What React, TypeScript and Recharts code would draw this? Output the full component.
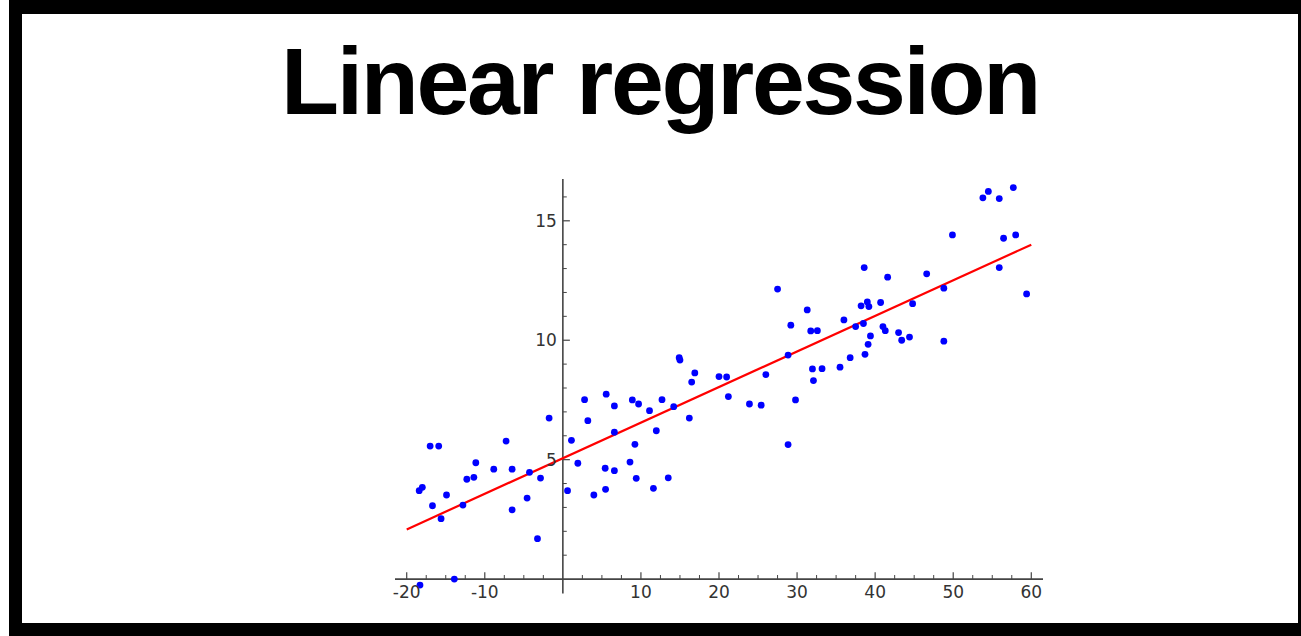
import {
  ComposedChart,
  Scatter,
  XAxis,
  YAxis,
  ReferenceLine,
  ReferenceDot
} from "recharts";

const xs = [
  -18.3, -13.9, -18.4, -18.0, -17.0, -15.9, -16.7, -15.6, -14.9, -12.8,
  -12.3, -11.4, -11.15, -8.85, -7.27, -6.5, -6.5, -4.58, -4.27, -2.86,
  -3.25, -1.76, 0.6, 1.1, 1.92, 2.78, 3.2, 3.97, 5.47, 5.42,
  5.55, 6.6, 6.6, 6.6, 8.9, 9.7, 9.23, 8.6, 9.4, 11.1,
  11.97, 11.6, 12.7, 13.5, 14.2, 14.9, 15.0, 16.2, 16.5, 16.9,
  20.0, 20.98, 21.2, 23.9, 25.4, 26.0, 27.5, 28.85, 28.85, 29.2,
  29.8, 31.3, 31.75, 32.6, 31.97, 33.2, 32.1, 35.5, 36.0, 36.8,
  37.5, 38.2, 38.6, 38.5, 39.0, 39.2, 38.7, 39.1, 39.4, 40.7,
  41.0, 41.3, 41.6, 43.0, 43.4, 44.4, 44.8, 46.6, 48.8, 48.8,
  49.9, 53.8, 54.5, 55.9, 57.7, 55.9, 56.45, 58.0, 59.4
];
const ys = [
  -0.25, 0.0, 3.7, 3.84, 5.57, 5.57, 3.07, 2.53, 3.52, 3.1,
  4.18, 4.26, 4.87, 4.6, 5.78, 4.6, 2.9, 3.39, 4.47, 4.23,
  1.69, 6.74, 3.7, 5.81, 4.85, 7.51, 6.63, 3.52, 3.76, 4.64,
  7.74, 7.25, 4.54, 6.15, 7.5, 7.33, 5.64, 4.9, 4.22, 7.05,
  6.21, 3.8, 7.51, 4.24, 7.22, 9.27, 9.17, 6.74, 8.25, 8.63,
  8.48, 8.46, 7.64, 7.33, 7.28, 8.56, 12.14, 9.38, 5.63, 10.63,
  7.5, 11.27, 10.39, 10.4, 8.8, 8.81, 8.31, 8.87, 10.85, 9.27,
  10.57, 11.44, 13.04, 10.7, 11.6, 11.41, 9.41, 9.83, 10.18, 11.58,
  10.57, 10.4, 12.64, 10.32, 10.0, 10.13, 11.53, 12.78, 12.18, 9.96,
  14.41, 15.96, 16.23, 15.93, 16.39, 13.04, 14.27, 14.41, 11.94
];

// fitted line end points
const fitX = [-20, 60];
const fitY = [2.08, 14.0];

const xMajorTicks = [-20, -10, 10, 20, 30, 40, 50, 60];
const xMinorTicks = [
  -17.5, -15, -12.5, -7.5, -5, -2.5, 2.5, 5, 7.5, 12.5, 15, 17.5,
  22.5, 25, 27.5, 32.5, 35, 37.5, 42.5, 45, 47.5, 52.5, 55, 57.5
];
const yMajorTicks = [5, 10, 15];
const yMinorTicks = [1, 2, 3, 4, 6, 7, 8, 9, 11, 12, 13, 14, 16];

const xDomain: [number, number] = [-21.5, 61.5];
const yDomain: [number, number] = [-0.75, 16.75];

const points = xs.map((x, i) => ({ x, y: ys[i] }));

const axisColor = "#444";
const labelStyle = { fill: "#333", fontSize: 17, fontFamily: "DejaVu Sans" };

export default function App() {
  return (
    <div style={{ position: "absolute", left: 0, top: 0, width: 1301, height: 636, background: "#fff" }}>
      <div style={{ position: "absolute", left: 9, top: 0, width: 1292, height: 636, background: "#000" }} />
      <div style={{ position: "absolute", left: 22, top: 14, width: 1276, height: 609, background: "#fff" }} />
      <div
        style={{
          position: "absolute",
          left: 22,
          top: 34,
          width: 1276,
          textAlign: "center",
          fontFamily: "'Liberation Sans', Arial, sans-serif",
          fontWeight: 700,
          fontSize: 95,
          lineHeight: "95px",
          letterSpacing: -2.3,
          color: "#000"
        }}
      >
        Linear regression
      </div>
      <div style={{ position: "absolute", left: 0, top: 0 }}>
        <ComposedChart
          width={1301}
          height={636}
          margin={{ top: 179, right: 258, bottom: 39, left: 395 }}
        >
          <XAxis type="number" dataKey="x" domain={xDomain} hide />
          <YAxis type="number" dataKey="y" domain={yDomain} hide />

          <ReferenceLine segment={[{ x: xDomain[0], y: 0 }, { x: xDomain[1], y: 0 }]} stroke={axisColor} strokeWidth={1.6} />
          <ReferenceLine segment={[{ x: 0, y: -0.6 }, { x: 0, y: yDomain[1] }]} stroke={axisColor} strokeWidth={1.6} />

          {xMajorTicks.map((t) => (
            <ReferenceLine key={"xM" + t} segment={[{ x: t, y: 0 }, { x: t, y: 0.29 }]} stroke={axisColor} strokeWidth={1.2} />
          ))}
          {xMinorTicks.map((t) => (
            <ReferenceLine key={"xm" + t} segment={[{ x: t, y: 0 }, { x: t, y: 0.17 }]} stroke={axisColor} strokeWidth={1} />
          ))}
          {yMajorTicks.map((t) => (
            <ReferenceLine key={"yM" + t} segment={[{ x: 0, y: t }, { x: 0.9, y: t }]} stroke={axisColor} strokeWidth={1.2} />
          ))}
          {yMinorTicks.map((t) => (
            <ReferenceLine key={"ym" + t} segment={[{ x: 0, y: t }, { x: 0.5, y: t }]} stroke={axisColor} strokeWidth={1} />
          ))}

          {xMajorTicks.map((t) => (
            <ReferenceDot
              key={"xl" + t}
              x={t}
              y={0}
              r={0}
              fill="none"
              stroke="none"
              label={{ value: String(t), position: "bottom", offset: 7, ...labelStyle }}
            />
          ))}
          {yMajorTicks.map((t) => (
            <ReferenceDot
              key={"yl" + t}
              x={0}
              y={t}
              r={0}
              fill="none"
              stroke="none"
              label={{ value: String(t), position: "left", offset: 6, ...labelStyle }}
            />
          ))}

          <Scatter
            data={points}
            isAnimationActive={false}
            shape={(p: any) => <circle cx={p.cx} cy={p.cy} r={3.4} fill="#0000ff" />}
          />
          <ReferenceLine
            segment={[{ x: fitX[0], y: fitY[0] }, { x: fitX[1], y: fitY[1] }]}
            stroke="#ff0000"
            strokeWidth={2.2}
          />
        </ComposedChart>
      </div>
    </div>
  );
}
